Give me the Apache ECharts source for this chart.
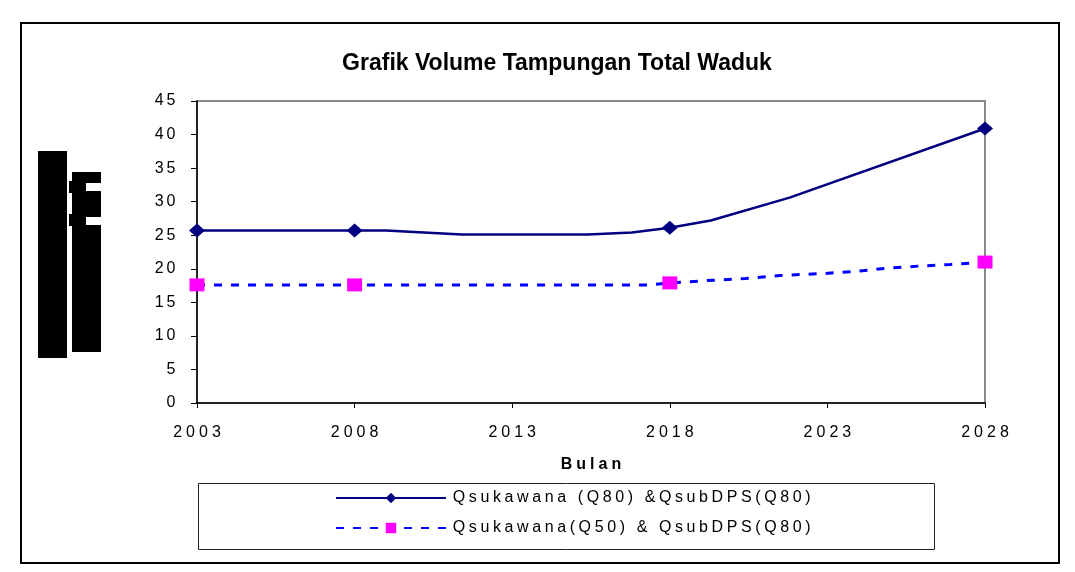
<!DOCTYPE html>
<html>
<head>
<meta charset="utf-8">
<script src="https://cdn.jsdelivr.net/npm/echarts@6/dist/echarts.min.js"></script>
<style>
  html, body { margin: 0; padding: 0; background: #fff; }
  #chart { width: 1075px; height: 572px; }
</style>
</head>
<body>
<div id="chart"></div>
<script>
// data
const baseYear = 2003;
const yearTicks = [2003, 2008, 2013, 2018, 2023, 2028];
const markerYears = [2003, 2008, 2018, 2028];

const q80Years = [2003, 2008, 2009, 2011.4, 2015.4, 2016.8, 2018, 2019.3, 2021.8, 2028];
const q80Values = [25.7, 25.7, 25.7, 25.1, 25.1, 25.4, 26.1, 27.2, 30.6, 40.9];

const q50Years = [2003, 2008, 2017.3, 2018, 2019.4, 2020.4, 2021.5, 2022.9, 2024, 2024.8, 2025.9, 2026.9, 2028];
const q50Values = [17.6, 17.6, 17.6, 17.9, 18.3, 18.55, 19.0, 19.3, 19.65, 20.05, 20.4, 20.65, 21.0];

const seriesNames = ["Qsukawana (Q80) &QsubDPS(Q80)", "Qsukawana(Q50) & QsubDPS(Q80)"];

// Excel draws the labels with wide letter spacing, fake it with one rich token per char
function spaced(s) {
  return s.split("").map((c) => "{d|" + c + "}").join("");
}

function points(years, values, symbol) {
  return years.map((yr, i) => ({
    value: [yr - baseYear, values[i]],
    symbol: markerYears.includes(yr) ? symbol : "none",
  }));
}

const chart = echarts.init(document.getElementById("chart"));

const option = {
  animation: false,
  backgroundColor: "#fff",
  textStyle: { fontFamily: "Liberation Sans, Arial, sans-serif" },
  title: {
    text: "Grafik Volume Tampungan Total Waduk",
    left: 552,
    top: 47,
    textAlign: "center",
    textStyle: { fontSize: 23, fontWeight: "bold", color: "#000" },
  },
  grid: {
    left: 197,
    right: 90,
    top: 101,
    bottom: 169,
    show: true,
    borderColor: "#8a8a8a",
    borderWidth: 2,
  },
  xAxis: {
    type: "value",
    min: 0,
    max: yearTicks[yearTicks.length - 1] - baseYear,
    interval: 5,
    name: spaced("Bulan"),
    nameLocation: "middle",
    nameGap: 54,
    nameTextStyle: {
      rich: { d: { fontSize: 16, fontWeight: "bold", color: "#000", padding: [0, 2, 0, 2] } },
    },
    splitLine: { show: false },
    axisLine: { lineStyle: { color: "#000", width: 1.5 } },
    axisTick: { show: true, length: 5, lineStyle: { color: "#000" } },
    axisLabel: {
      margin: 22,
      formatter: (v) => spaced(String(baseYear + v)),
      rich: { d: { fontSize: 16, color: "#000", padding: [0, 2, 0, 2] } },
    },
  },
  yAxis: {
    type: "value",
    min: 0,
    max: 45,
    interval: 5,
    splitLine: { show: false },
    axisLine: { show: true, lineStyle: { color: "#000", width: 1.5 } },
    axisTick: { show: true, length: 6, lineStyle: { color: "#000" } },
    axisLabel: {
      margin: 20,
      formatter: (v) => spaced(String(v)),
      rich: { d: { fontSize: 16, color: "#000", padding: [0, 1.5, 0, 1.5] } },
    },
  },
  legend: {
    orient: "vertical",
    left: 335,
    top: 490,
    padding: 0,
    itemWidth: 110,
    itemHeight: 13,
    itemGap: 14,
    formatter: (name) => spaced(name),
    textStyle: {
      rich: { d: { fontSize: 16, color: "#000", padding: [0, 1.8, 0, 1.8] } },
    },
    data: seriesNames,
  },
  series: [
    {
      name: seriesNames[0],
      type: "line",
      data: points(q80Years, q80Values, "diamond"),
      symbol: "diamond",
      symbolSize: [16, 14],
      lineStyle: { color: "#000080", width: 2.5 },
      itemStyle: { color: "#000080" },
      z: 3,
    },
    {
      name: seriesNames[1],
      type: "line",
      data: points(q50Years, q50Values, "rect"),
      symbol: "rect",
      symbolSize: [15, 13],
      lineStyle: { color: "#0000ff", width: 3, type: [8, 9] },
      itemStyle: { color: "#ff00ff" },
      z: 2,
    },
  ],
  graphic: [
    // outer chart border
    { type: "rect", shape: { x: 21, y: 23, width: 1038, height: 540 }, style: { fill: "none", stroke: "#000", lineWidth: 2 }, silent: true },
    // legend box
    { type: "rect", shape: { x: 198.5, y: 483.5, width: 736, height: 66 }, style: { fill: "none", stroke: "#222", lineWidth: 1 }, silent: true },
    // the black smear where the y-axis title should be
    { type: "rect", shape: { x: 38, y: 151, width: 29, height: 207 }, style: { fill: "#000" }, silent: true },
    { type: "rect", shape: { x: 72, y: 172, width: 29, height: 180 }, style: { fill: "#000" }, silent: true },
    { type: "rect", shape: { x: 86, y: 183, width: 15, height: 8 }, style: { fill: "#fff" }, silent: true },
    { type: "rect", shape: { x: 86, y: 217, width: 15, height: 8 }, style: { fill: "#fff" }, silent: true },
    { type: "rect", shape: { x: 69, y: 181, width: 4, height: 12 }, style: { fill: "#000" }, silent: true },
    { type: "rect", shape: { x: 69, y: 214, width: 4, height: 12 }, style: { fill: "#000" }, silent: true },
  ],
};

chart.setOption(option);
</script>
</body>
</html>
